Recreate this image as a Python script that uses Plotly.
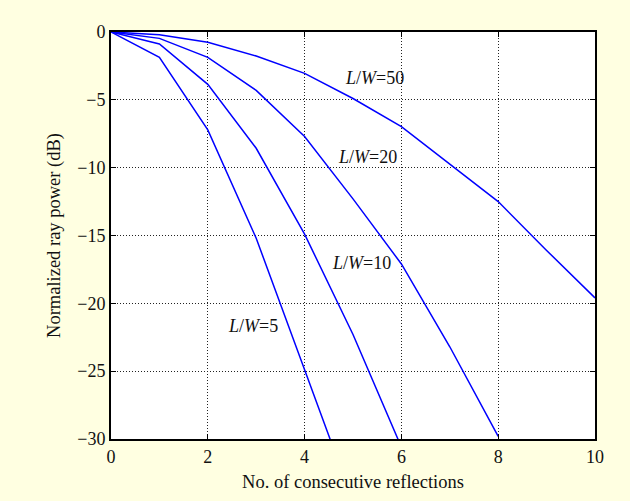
import plotly.graph_objects as go

reflections = [0, 1, 2, 3, 4, 5, 6, 7, 8, 9, 10]

lw5 = [0, -1.87, -7.22, -15.2, -24.9, -34.6]
lw10 = [0, -0.88, -3.86, -8.57, -14.9, -22.3, -30.6]
lw20 = [0, -0.47, -1.87, -4.3, -7.7, -12.3, -17.1, -23.2, -29.8]
lw50 = [0, -0.2, -0.76, -1.77, -3.05, -4.9, -6.98, -9.72, -12.5, -16.1, -19.6]

labels = ["<i>L</i>/<i>W</i>=50", "<i>L</i>/<i>W</i>=20", "<i>L</i>/<i>W</i>=10", "<i>L</i>/<i>W</i>=5"]
label_x = [5.45, 5.3, 5.18, 2.93]
label_y = [-3.39, -9.19, -17.05, -21.7]

font_family = "Liberation Serif"

fig = go.Figure()
for series in [lw5, lw10, lw20, lw50]:
    fig.add_trace(go.Scatter(
        x=reflections[:len(series)], y=series, mode="lines",
        line=dict(color="#0000FF", width=1.5), showlegend=False,
    ))

for t, xx, yy in zip(labels, label_x, label_y):
    fig.add_annotation(x=xx, y=yy, text=t, showarrow=False,
                       font=dict(family=font_family, size=18, color="#111111"))

axis_common = dict(
    showline=True, linecolor="black", linewidth=2, mirror="ticks",
    ticks="inside", ticklen=5, tickwidth=1, tickcolor="black",
    showgrid=True, gridcolor="#222222", gridwidth=1, griddash="1px,2px",
    zeroline=False,
    tickfont=dict(family=font_family, size=18, color="#111111"),
    title_font=dict(family=font_family, size=18.5, color="#111111"),
)

fig.update_xaxes(range=[0, 10], tickvals=[0, 2, 4, 6, 8, 10],
                 title_text="No. of consecutive reflections", title_standoff=9, **axis_common)
fig.update_yaxes(range=[-30, 0], tickvals=[0, -5, -10, -15, -20, -25, -30],
                 title_text="Normalized ray power (dB)", title_standoff=12, **axis_common)

fig.update_layout(
    width=630, height=501,
    margin=dict(l=111, r=35, t=32, b=62),
    paper_bgcolor="#FFFFE1", plot_bgcolor="white",
)

fig.write_html("out.html")
